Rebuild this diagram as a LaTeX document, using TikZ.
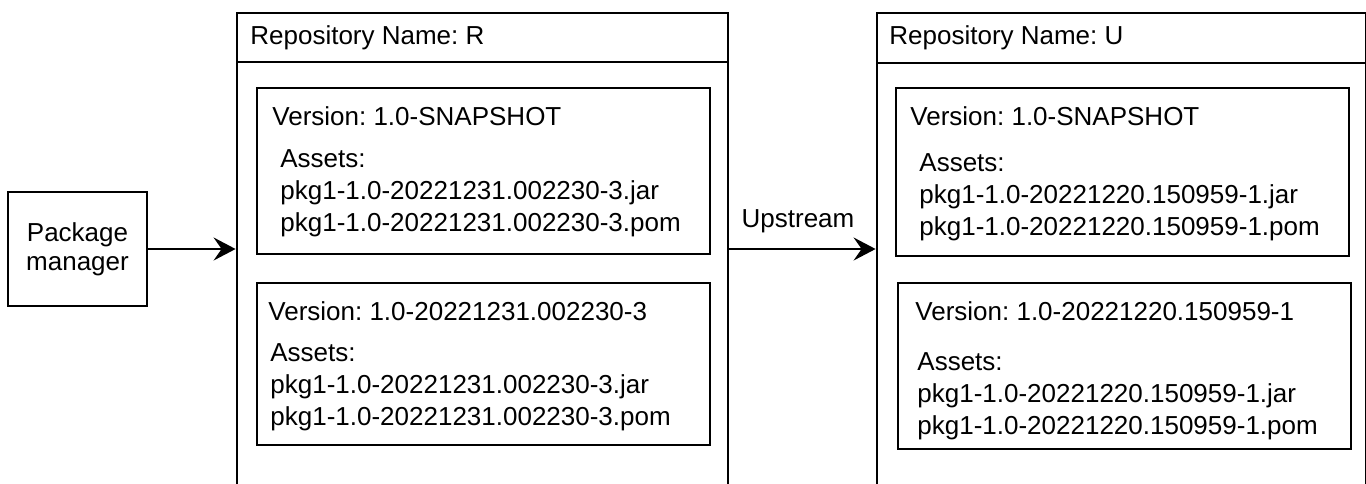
\documentclass[tikz,border=0pt]{standalone}
\usepackage{fontspec}
\setmainfont{Liberation Sans}
\frenchspacing
\usetikzlibrary{arrows.meta, positioning, fit, calc}
\tikzset{
    repo/.style={draw, line width=1.4pt, rectangle, inner sep=0pt},
    verbox/.style={draw, line width=0.8pt, rectangle, inner sep=0pt},
    txt/.style={inner sep=0pt, anchor=base west, font=\fontsize{13pt}{16pt}\selectfont},
    flow/.style={-{Stealth[length=11pt, width=11.5pt, inset=4pt]}, line width=1.1pt}
}
\begin{document}
\begin{tikzpicture}[x=0.5pt, y=-0.5pt]
    \useasboundingbox (0,0) rectangle (1366,483);
    \clip (0,0) rectangle (1366,483);
    % client
    \node[verbox, minimum width=69.5pt, minimum height=57pt, align=center,
          font=\fontsize{13pt}{14.5pt}\selectfont] (pm) at (77.5,249) {Package\\manager};
    % repository R
    \node[repo, fit={(237,13) (728,485)}] (rbody) {};
    \node[repo, fit={(237,13) (728,62)}] (rhead) {};
    \node[txt] (rname) at (250,44) {Repository Name: R};
    \node[verbox, fit={(257,88) (710,254)}] (r1) {};
    \node[txt] (r1v) at (272,125) {Version: 1.0-SNAPSHOT};
    \foreach \t [count=\i from 0] in {Assets:, pkg1-1.0-20221231.002230-3.jar, pkg1-1.0-20221231.002230-3.pom}
        \node[txt] (r1a\i) at (280,167+32*\i) {\t};
    \node[verbox, fit={(257,283) (710,445)}] (r2) {};
    \node[txt] (r2v) at (268,320) {Version: 1.0-20221231.002230-3};
    \foreach \t [count=\i from 0] in {Assets:, pkg1-1.0-20221231.002230-3.jar, pkg1-1.0-20221231.002230-3.pom}
        \node[txt] (r2a\i) at (270,361+32*\i) {\t};
    % repository U
    \node[repo, fit={(877,13) (1366,485)}] (ubody) {};
    \node[repo, fit={(877,13) (1366,63)}] (uhead) {};
    \node[txt] (uname) at (889,44) {Repository Name: U};
    \node[verbox, fit={(896,88) (1349,256)}] (u1) {};
    \node[txt] (u1v) at (910,125) {Version: 1.0-SNAPSHOT};
    \foreach \t [count=\i from 0] in {Assets:, pkg1-1.0-20221220.150959-1.jar, pkg1-1.0-20221220.150959-1.pom}
        \node[txt] (u1a\i) at (919,171+32*\i) {\t};
    \node[verbox, fit={(898,283) (1351,449)}] (u2) {};
    \node[txt] (u2v) at (915,320) {Version: 1.0-20221220.150959-1};
    \foreach \t [count=\i from 0] in {Assets:, pkg1-1.0-20221220.150959-1.jar, pkg1-1.0-20221220.150959-1.pom}
        \node[txt] (u2a\i) at (917,370+32*\i) {\t};
    % arrows
    \draw[flow] (pm.east) -- (pm.east -| rbody.west);
    \draw[flow] (pm.east -| rbody.east) -- (pm.east -| ubody.west);
    \node[txt, anchor=base] (upl) at (798,227) {Upstream};
\end{tikzpicture}
\end{document}
